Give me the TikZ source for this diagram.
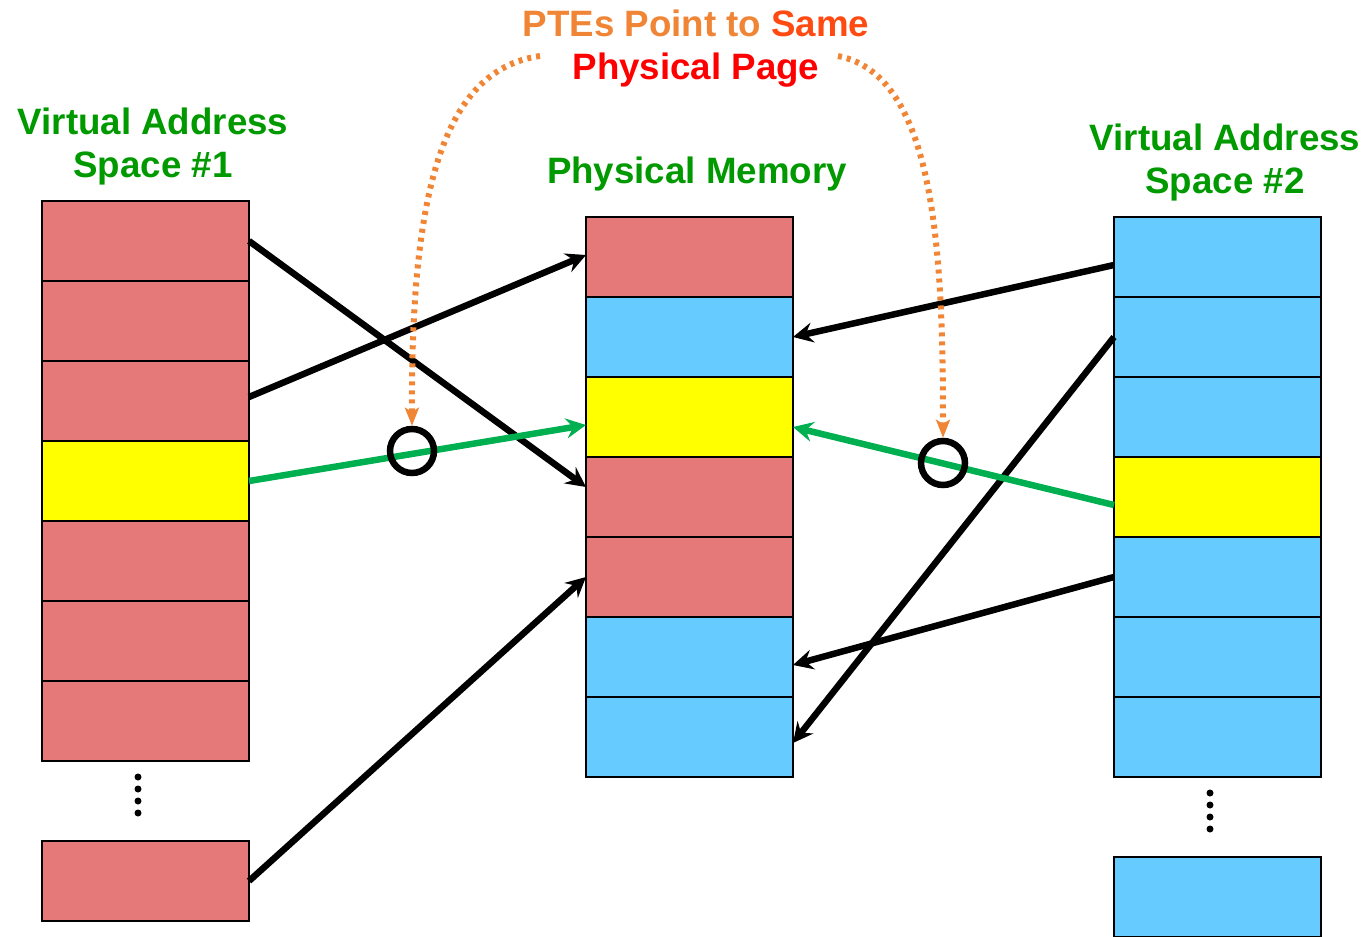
\documentclass[tikz,border=0pt]{standalone}
\usepackage{fontspec}
\setmainfont{Liberation Sans}
\usetikzlibrary{arrows.meta}
\definecolor{pgred}{HTML}{E57878}
\definecolor{pgblue}{HTML}{66CCFF}
\definecolor{pgyellow}{HTML}{FFFF00}
\definecolor{lblgreen}{HTML}{009900}
\definecolor{arrgreen}{HTML}{00B050}
\definecolor{ptorange}{HTML}{F08536}
\definecolor{ptsame}{HTML}{FF4A12}
\definecolor{ptred}{HTML}{FF0000}
\tikzset{
  cell/.style={draw=black, line width=2.2pt, minimum width=207pt, minimum height=80pt, inner sep=0pt, outer sep=0pt},
  rc/.style={cell, fill=pgred},
  bc/.style={cell, fill=pgblue},
  yc/.style={cell, fill=pgyellow},
  lbl/.style={font=\fontsize{36.7pt}{43pt}\selectfont\bfseries, text=lblgreen, align=center, inner sep=0pt},
  map/.style={line width=6.5pt, -{Stealth[length=20pt,width=20pt,inset=7pt]}},
  blk/.style={map, draw=black},
  grn/.style={map, draw=arrgreen},
  pte/.style={draw=ptorange, line width=6pt, dash pattern=on 4pt off 5pt, -{Stealth[length=18pt,width=14pt,inset=4pt,fill=ptorange]}},
  ring/.style={draw=black, line width=6.5pt, circle, minimum size=44pt, inner sep=0pt},
  dot/.style={fill=black, circle, inner sep=0pt, minimum size=7pt}
}
\begin{document}
\begin{tikzpicture}[x=1pt,y=-1pt]
\useasboundingbox (0,0) rectangle (1369,937);
% left column
\node[rc] (L1) at (145.5,241) {};
\node[rc] (L2) at (145.5,321) {};
\node[rc] (L3) at (145.5,401) {};
\node[yc] (L4) at (145.5,481) {};
\node[rc] (L5) at (145.5,561) {};
\node[rc] (L6) at (145.5,641) {};
\node[rc] (L7) at (145.5,721) {};
\node[rc] (L8) at (145.5,881) {};
% middle column
\node[rc] (M1) at (689.5,257) {};
\node[bc] (M2) at (689.5,337) {};
\node[yc] (M3) at (689.5,417) {};
\node[rc] (M4) at (689.5,497) {};
\node[rc] (M5) at (689.5,577) {};
\node[bc] (M6) at (689.5,657) {};
\node[bc] (M7) at (689.5,737) {};
% right column
\node[bc] (R1) at (1217.5,257) {};
\node[bc] (R2) at (1217.5,337) {};
\node[bc] (R3) at (1217.5,417) {};
\node[yc] (R4) at (1217.5,497) {};
\node[bc] (R5) at (1217.5,577) {};
\node[bc] (R6) at (1217.5,657) {};
\node[bc] (R7) at (1217.5,737) {};
\node[bc] (R8) at (1217.5,897) {};
% dots
\node[dot] (d1) at (138,777) {};
\node[dot] (d2) at (138,789) {};
\node[dot] (d3) at (138,801) {};
\node[dot] (d4) at (138,813) {};
\node[dot] (e1) at (1210,793) {};
\node[dot] (e2) at (1210,805) {};
\node[dot] (e3) at (1210,817) {};
\node[dot] (e4) at (1210,829) {};
% labels
\node[lbl] (t1) at (153,147) {Virtual Address\\Space \#1};
\node[lbl] (t2) at (1225,163) {Virtual Address\\Space \#2};
\node[lbl] (t3) at (697,174) {Physical Memory};
\node[lbl, text=ptred] (t4) at (696,49) {{\color{ptorange}PTEs Point to} {\color{ptsame}Same}\\Physical Page};
% connectors
\draw[blk] (L1.east) -- ([yshift=10pt]M4.west);
\draw[blk] ([yshift=4pt]L3.east) -- ([yshift=2pt]M1.west);
\draw[grn] (L4.east) -- ([yshift=-8pt]M3.west);
\draw[blk] (L8.east) -- (M5.west);
\draw[blk] ([yshift=-8pt]R1.west) -- (M2.east);
\draw[blk] (R2.west) -- ([yshift=-6pt]M7.east);
\draw[grn] ([yshift=-8pt]R4.west) -- ([yshift=-10pt]M3.east);
\draw[blk] (R5.west) -- ([yshift=-8pt]M6.east);
% rings
\node[ring] (c1) at (412,451) {};
\node[ring] (c2) at (943,463) {};
% PTE pointers
\coordinate (p1) at (540,56);
\coordinate (p2) at (838,56);
\draw[pte] (p1) .. controls (440,70) and (411,200) .. (c1.north);
\draw[pte] (p2) .. controls (935,75) and (943,250) .. (c2.north);
\end{tikzpicture}
\end{document}
